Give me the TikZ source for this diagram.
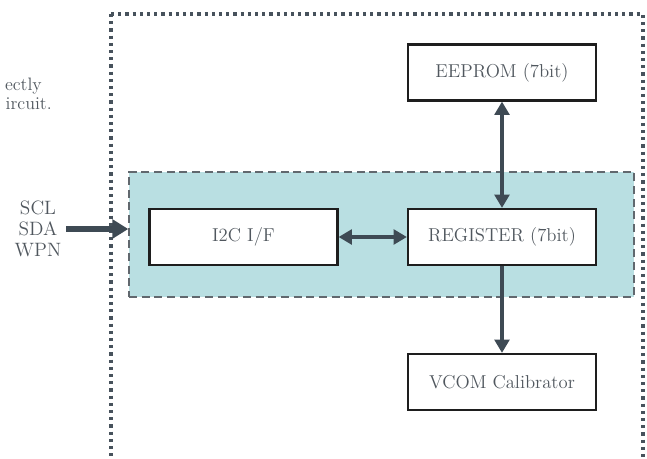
\documentclass[tikz,border=0pt]{standalone}
\usetikzlibrary{arrows.meta}
\definecolor{txtgray}{HTML}{50575E}
\definecolor{arrowc}{HTML}{3E4A54}
\definecolor{tealfill}{HTML}{B9DFE2}
\definecolor{boxline}{HTML}{1E1E1E}
\definecolor{dotc}{HTML}{47525C}
\tikzset{
  px/.style={x=0.75pt,y=-0.75pt},
  blockbox/.style={draw=boxline,line width=1.6pt,fill=white,minimum width=141pt,minimum height=42pt,inner sep=0pt,text=txtgray,font=\fontsize{14}{16}\selectfont},
  conn/.style={draw=arrowc,line width=3.5pt},
  lbl/.style={text=txtgray,font=\fontsize{14.5}{16}\selectfont,inner sep=0pt}
}
\begin{document}
\begin{tikzpicture}[px]
\useasboundingbox (0,0) rectangle (647,458);
\clip (0,0) rectangle (647,458);
% outer dotted frame
\draw[dotc,line width=2.4pt,dash pattern=on 2.4pt off 3pt] (111,14) -- (643,14) -- (643,470);
\draw[dotc,line width=2.4pt,dash pattern=on 2.4pt off 3pt] (111,14) -- (111,470);
% teal region
\node[draw=txtgray!90,fill=tealfill,line width=1.1pt,dash pattern=on 6pt off 3.5pt,minimum width=378.75pt,minimum height=93.75pt,inner sep=0pt] (grp) at (381.5,234.5) {};
% blocks
\node[blockbox] (i2c) at (243.5,237) {I2C I/F};
\node[blockbox] (reg) at (502,237) {REGISTER (7bit)};
\node[blockbox] (eep) at (502,72.5) {EEPROM (7bit)};
\node[blockbox] (vcom) at (502,382) {VCOM Calibrator};
% connectors
\draw[conn,{Triangle[length=10pt,width=11pt]}-{Triangle[length=10pt,width=11pt]}] (i2c.east) -- (reg.west);
\draw[conn,{Triangle[length=10pt,width=11pt]}-{Triangle[length=10pt,width=11pt]}] (eep.south) -- (reg.north);
\draw[conn,-{Triangle[length=10pt,width=11pt]}] (reg.south) -- (vcom.north);
% input
\node[lbl,align=center] (sig) at (38,229) {SCL\\[-0.5pt]SDA\\[-0.5pt]WPN};
\coordinate (inA) at (66,229);
\draw[conn,line width=4pt,-{Triangle[length=12pt,width=14pt]}] (inA) -- (grp.west |- inA);
% cut-off side text
\node[lbl,anchor=east,font=\fontsize{13.5}{15}\selectfont] (t1) at (42,86) {ectly};
\node[lbl,anchor=east,font=\fontsize{13.5}{15}\selectfont] (t2) at (52,104) {ircuit.};
\end{tikzpicture}
\end{document}
